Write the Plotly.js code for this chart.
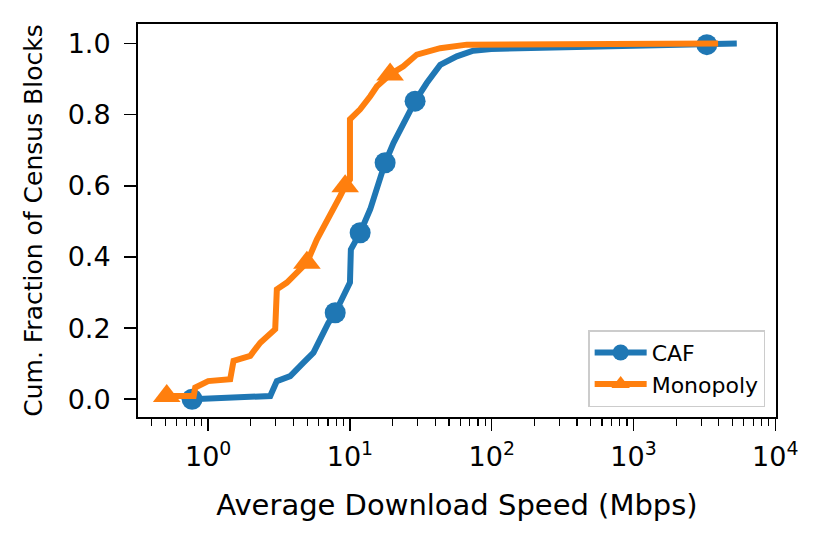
<!DOCTYPE html>
<html>
<head>
<meta charset="utf-8">
<script src="https://cdn.plot.ly/plotly-3.0.1.min.js"></script>
<style>html,body{margin:0;padding:0;background:#fff;}#chart{width:830px;height:546px;}</style>
</head>
<body>
<div id="chart"></div>
<script>
// CAF curve (speed in Mbps, cumulative fraction)
var cafX = [0.77, 2.74, 3.05, 3.79, 4.7, 5.53, 6.17, 7.05, 7.87, 9.0, 10.0, 10.15, 11.8, 13.9, 15.5, 17.7, 20.3, 23.8, 28.8, 34.8, 38.8, 41, 43.3, 56.7, 74, 99, 3290, 5350];
var cafY = [0.0, 0.009, 0.051, 0.065, 0.103, 0.131, 0.169, 0.215, 0.243, 0.29, 0.328, 0.421, 0.468, 0.534, 0.599, 0.665, 0.721, 0.777, 0.838, 0.889, 0.917, 0.93, 0.94, 0.964, 0.98, 0.985, 0.997, 1.0];
var cafMarkX = [0.77, 7.87, 11.8, 17.7, 28.8, 3290];
var cafMarkY = [0.0, 0.243, 0.468, 0.665, 0.838, 0.997];

// Monopoly curve
var monoX = [0.51, 0.79, 0.81, 1.0, 1.43, 1.51, 1.98, 2.33, 2.97, 3.05, 3.59, 4.22, 4.97, 5.84, 7.25, 8.53, 9.25, 10.0, 10.0, 11.8, 13.9, 15.5, 19.2, 23.8, 29.6, 43.3, 66.7, 3950];
var monoY = [0.009, 0.009, 0.033, 0.051, 0.056, 0.108, 0.122, 0.159, 0.197, 0.309, 0.328, 0.356, 0.384, 0.449, 0.515, 0.571, 0.599, 0.618, 0.787, 0.815, 0.852, 0.88, 0.913, 0.936, 0.969, 0.987, 0.997, 1.0];
var monoMarkX = [0.51, 4.97, 9.25, 19.2];
var monoMarkY = [0.009, 0.384, 0.599, 0.913];

var xTickVals = [1, 10, 100, 1000, 10000];
var xTickText = ['10<sup>0</sup>', '10<sup>1</sup>', '10<sup>2</sup>', '10<sup>3</sup>', '10<sup>4</sup>'];
var yTickVals = [0, 0.2, 0.4, 0.6, 0.8, 1.0];

var blue = '#1f77b4', orange = '#ff7f0e';
var minorVals = [];
for (var d = -1; d < 4; d++) for (var k = 2; k <= 9; k++) minorVals.push(k * Math.pow(10, d));

var traces = [
  {x: cafX, y: cafY, mode: 'lines', line: {color: blue, width: 6}, showlegend: false, hoverinfo: 'skip'},
  {x: cafMarkX, y: cafMarkY, mode: 'markers', marker: {color: blue, size: 21, symbol: 'circle'}, showlegend: false, hoverinfo: 'skip'},
  {x: monoX, y: monoY, mode: 'lines', line: {color: orange, width: 6}, showlegend: false, hoverinfo: 'skip'},
  {x: monoMarkX, y: monoMarkY, mode: 'markers', marker: {color: orange, size: 24, symbol: 'triangle-up'}, showlegend: false, hoverinfo: 'skip'},
  {x: [null], y: [null], name: 'CAF', mode: 'lines+markers', line: {color: blue, width: 6}, marker: {color: blue, size: 16, symbol: 'circle'}},
  {x: [null], y: [null], name: 'Monopoly', mode: 'lines+markers', line: {color: orange, width: 6}, marker: {color: orange, size: 16, symbol: 'triangle-up'}}
];

var font = 'DejaVu Sans, sans-serif';
var layout = {
  width: 830, height: 546,
  margin: {l: 138, r: 54, t: 24, b: 129},
  paper_bgcolor: '#fff', plot_bgcolor: '#fff',
  font: {family: font, color: '#000', size: 26},
  showlegend: true,
  legend: {
    x: 0.983, xanchor: 'right', y: 0.025, yanchor: 'bottom',
    bordercolor: '#cccccc', borderwidth: 1.5, bgcolor: 'rgba(255,255,255,0.8)',
    itemwidth: 52,
    font: {family: font, size: 22, color: '#000'}
  },
  xaxis: {
    type: 'log', range: [-0.495, 4.005],
    tickmode: 'array', tickvals: xTickVals, ticktext: xTickText,
    ticks: 'outside', ticklen: 12, tickwidth: 1.5, tickcolor: '#000',
    ticklabelstandoff: 3,
    showline: true, linecolor: '#000', linewidth: 2, mirror: true,
    showgrid: false, zeroline: false,
    tickfont: {family: font, size: 27},
    minor: {tickmode: 'array', tickvals: minorVals, ticks: 'outside', ticklen: 7, tickwidth: 1.2, tickcolor: '#000', showgrid: false},
    title: {text: 'Average Download Speed (Mbps)', font: {family: font, size: 29}}
  },
  yaxis: {
    range: [-0.05, 1.055],
    tickmode: 'array', tickvals: yTickVals, tickformat: '.1f',
    ticks: 'outside', ticklen: 12, tickwidth: 1.5, tickcolor: '#000',
    ticklabelstandoff: 8,
    showline: true, linecolor: '#000', linewidth: 2, mirror: true,
    showgrid: false, zeroline: false,
    tickfont: {family: font, size: 27},
    title: {text: 'Cum. Fraction of Census Blocks', standoff: 18, font: {family: font, size: 25}}
  }
};

Plotly.newPlot('chart', traces, layout, {displayModeBar: false, staticPlot: true});
</script>
</body>
</html>
